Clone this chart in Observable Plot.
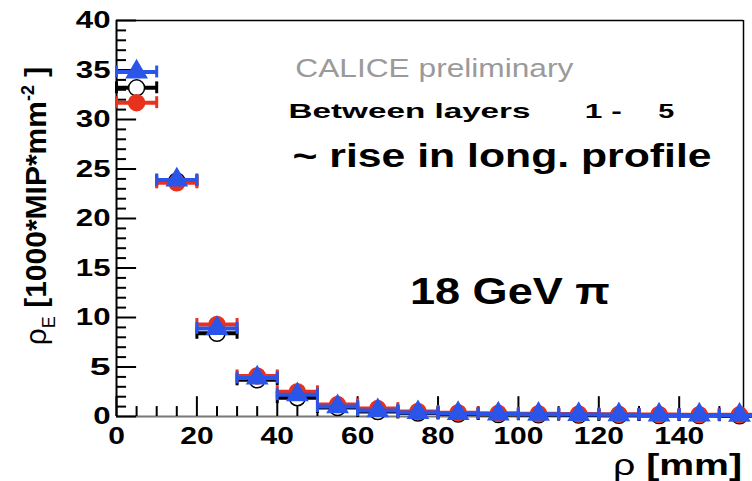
<!DOCTYPE html>
<html><head><meta charset="utf-8">
<script src="https://cdn.jsdelivr.net/npm/d3@7"></script>
<script src="https://cdn.jsdelivr.net/npm/@observablehq/plot@0.6"></script>
<style>body{margin:0;background:#fff;} svg{font-family:"Liberation Sans",Arial,sans-serif;}</style>
</head><body><div id="chart"></div>
<script>
const binCenters = [5,15,25,35,45,55,65,75,85,95,105,115,125,135,145,155];
const dataBlack = [33.2,23.8,8.4,3.7,1.9,0.9,0.5,0.35,0.25,0.2,0.17,0.14,0.12,0.1,0.09,0.08];
const dataRed   = [31.7,23.6,9.3,4.1,2.5,1.2,0.8,0.5,0.38,0.32,0.28,0.25,0.22,0.2,0.18,0.17];
const dataBlue  = [34.8,23.9,8.9,3.9,2.2,1.0,0.6,0.4,0.3,0.26,0.23,0.2,0.18,0.16,0.15,0.14];
const binHalf = 5;
const xMajor = [0,20,40,60,80,100,120,140];
const yMajor = [0,5,10,15,20,25,30,35,40];

const rows = (vals, s) => binCenters.map((x,i)=>({x, y: vals[i], s}));
const black = rows(dataBlack,"black"), red = rows(dataRed,"red"), blue = rows(dataBlue,"blue");

const xMinor = d3.range(0,156,5).filter(v=>!xMajor.includes(v));
const yMinor = d3.range(0,40,1).filter(v=>!yMajor.includes(v));

function errMarks(data, color, sw){
  return [
    Plot.ruleY(data, {y:"y", x1:d=>d.x-binHalf, x2:d=>d.x+binHalf, stroke:color, strokeWidth:sw}),
    Plot.ruleX(data, {x:d=>d.x-binHalf, y1:d=>d.y-0.6, y2:d=>d.y+0.6, stroke:color, strokeWidth:3}),
    Plot.ruleX(data, {x:d=>d.x+binHalf, y1:d=>d.y-0.6, y2:d=>d.y+0.6, stroke:color, strokeWidth:3})
  ];
}

const plot = Plot.plot({
  width:752, height:481,
  marginLeft:116, marginTop:20, marginRight:9, marginBottom:65,
  x:{domain:[0,156], axis:null},
  y:{domain:[0,40], axis:null},
  style:{fontFamily:"Liberation Sans, Arial, sans-serif", background:"#fff"},
  marks:[
    // frame
    Plot.ruleY([40], {stroke:"#000", strokeWidth:1.5}),
    Plot.ruleX([156], {stroke:"#000", strokeWidth:1.5}),
    Plot.ruleY([0], {stroke:"#777", strokeWidth:2}),
    Plot.ruleX([0], {stroke:"#000", strokeWidth:2}),
    // inside ticks
    Plot.ruleY(yMajor, {y:d=>d, x1:0, x2:5, stroke:"#000", strokeWidth:2}),
    Plot.ruleY(yMinor, {y:d=>d, x1:0, x2:2.5, stroke:"#000", strokeWidth:2}),
    Plot.ruleX(xMajor, {x:d=>d, y1:0, y2:2, stroke:"#000", strokeWidth:2}),
    Plot.ruleX(xMinor, {x:d=>d, y1:0, y2:1, stroke:"#000", strokeWidth:2}),
    // tick labels
    Plot.text(yMajor, {x:0, y:d=>d, text:d=>String(d), textAnchor:"end", dx:-6, fontSize:24, fontWeight:"bold", fill:"#000"}),
    Plot.text(xMajor, {x:d=>d, y:0, text:d=>String(d), dy:20, fontSize:24, fontWeight:"bold", fill:"#000"}),
    // data
    ...errMarks(black, "#000", 4),
    Plot.dot(black, {x:"x", y:"y", r:8, fill:"#fff", stroke:"#000", strokeWidth:1.5}),
    ...errMarks(red, "#e8321e", 4),
    Plot.dot(red, {x:"x", y:"y", r:8, fill:"#e8321e", stroke:"#e8321e"}),
    ...errMarks(blue, "#2b55e8", 4),
    Plot.dot(blue, {x:"x", y:"y", symbol:"triangle", r:7.5, fill:"#2b55e8", stroke:"#2b55e8"}),
    // annotations
    Plot.text(["CALICE preliminary"], {x:44.5, y:35.1, text:d=>d, textAnchor:"start", fontSize:25, fill:"#9a9a9a"}),
    Plot.text(["Between layers"], {x:42.8, y:30.8, text:d=>d, textAnchor:"start", fontSize:21, fontWeight:"bold", fill:"#000"}),
    Plot.text(["1 -"], {x:116.5, y:30.8, text:d=>d, textAnchor:"start", fontSize:21, fontWeight:"bold", fill:"#000"}),
    Plot.text(["5"], {x:134.8, y:30.8, text:d=>d, textAnchor:"start", fontSize:21, fontWeight:"bold", fill:"#000"}),
    Plot.text(["~ rise in long. profile"], {x:43.8, y:26.3, text:d=>d, textAnchor:"start", fontSize:33, fontWeight:"bold", fill:"#000"}),
    Plot.text(["18 GeV π"], {x:73, y:12.6, text:d=>d, textAnchor:"start", fontSize:37, fontWeight:"bold", fill:"#000"})
  ]
});
document.getElementById("chart").appendChild(plot);

const svg = d3.select(plot);
// horizontal stretch of text (reference glyphs are widened)
function stretchText(content, len){
  svg.selectAll("text").filter(function(){ return this.textContent === content; })
    .attr("textLength", len).attr("lengthAdjust","spacingAndGlyphs");
}
stretchText("CALICE preliminary", 278);
stretchText("Between layers", 242);
stretchText("1 -", 37);
stretchText("5", 16);
stretchText("~ rise in long. profile", 419);
stretchText("18 GeV π", 200);

const textGroups = svg.selectAll("g[aria-label='text']").nodes();
d3.select(textGroups[0]).selectAll("text").each(function(){
  d3.select(this).attr("textLength", this.getComputedTextLength()*1.3).attr("lengthAdjust","spacingAndGlyphs");
});
d3.select(textGroups[1]).selectAll("text").each(function(){
  d3.select(this).attr("textLength", this.getComputedTextLength()*1.25).attr("lengthAdjust","spacingAndGlyphs");
});

// axis titles with sub/superscripts
const yl = svg.append("text")
  .attr("transform","translate(46,206) rotate(-90)")
  .attr("text-anchor","middle")
  .attr("font-size",30).attr("font-weight","bold").attr("fill","#000");
yl.append("tspan").attr("font-weight","normal").text("ρ");
yl.append("tspan").attr("font-size",18).attr("font-weight","normal").attr("dy",9).text("E");
yl.append("tspan").attr("dy",-9).text(" [1000*MIP*mm");
yl.append("tspan").attr("font-size",18).attr("dy",-12).text("-2");
yl.append("tspan").attr("dy",12).text(" ]");

const xl = svg.append("text").attr("x",742).attr("y",475).attr("text-anchor","end")
  .attr("font-size",30).attr("font-weight","bold").attr("fill","#000")
  .attr("textLength",129).attr("lengthAdjust","spacingAndGlyphs");
xl.append("tspan").attr("font-weight","normal").text("ρ");
xl.append("tspan").text(" [mm]");
</script></body></html>
